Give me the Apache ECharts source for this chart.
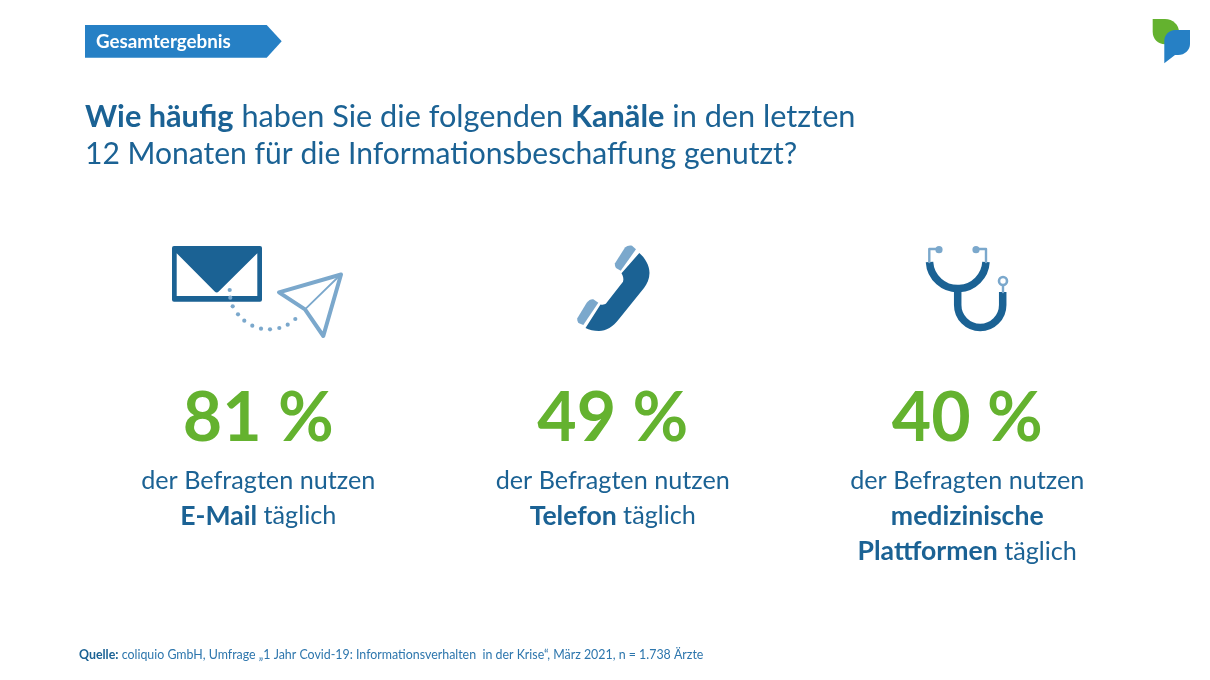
<!DOCTYPE html>
<html><head><meta charset="utf-8">
<style>html,body{margin:0;padding:0;background:#fff}#c{width:1210px;height:680px}</style>
<script src="https://cdn.jsdelivr.net/npm/echarts@6/dist/echarts.min.js"></script>
</head><body><div id="c"></div>
<script>
const channels = ['E-Mail', 'Telefon', 'medizinische Plattformen'];
const shares = [81, 49, 40];
const captionLead = 'der Befragten nutzen';
const captionTail = ' täglich';
const badgeText = 'Gesamtergebnis';
const sourceBold = 'Quelle:';
const sourceText = ' coliquio GmbH, Umfrage „1 Jahr Covid-19: Informationsverhalten  in der Krise“, März 2021, n = 1.738 Ärzte';

const DARK = '#1b6294', LIGHT = '#7ba8cc', GREEN = '#64b22f', BLUE = '#2680c5';
const FONT = 'Lato';

function caption(name) {
  const words = name.split(' ');
  const lines = ['{r|' + captionLead + '}'];
  if (words.length > 1) {
    lines.push('{b|' + words[0] + '}');
    lines.push('{b|' + words[1] + '}{r|' + captionTail + '}');
  } else {
    lines.push('{b|' + name + '}{r|' + captionTail + '}');
  }
  return lines.join('\n');
}

const iconPaths = [
  // logo
  {d:'M1152.7,19 H1165 C1173,19 1179,25 1179,32 C1179,39 1173,44.3 1165,44.3 C1158,44.3 1152.7,39 1152.7,32 Z', fill:GREEN},
  {d:'M1190,30 H1175 C1169,30 1164.3,35 1164.3,41 V63.3 L1175,55 H1178 C1185,55 1190,50 1190,44 Z', fill:BLUE},
  // phone
  {d:'M639.3,253 C645,258 649.5,265 649.5,273 C649.5,279 647,284 644,288 L619,319 C613,327 606,331 599,331 C594,331 589,330 585.5,328 L600.5,304.5 C603,305 605,304.5 606,303.5 L623,281.7 C624,279 623,276 621.5,273.3 Z', fill:DARK},
  {d:'M615,263.3 L625,247.5 C627,245.5 630,245 632,245.7 L636,249.3 L620.7,270.7 L616,268 C615,266.5 614.7,265 615,263.3 Z', fill:LIGHT},
  {d:'M577.3,318.3 L586.7,302.7 C589,300 591,299 593.3,299.3 L598.3,302.7 L583.3,325 L579,323.3 C577.5,322 577,320 577.3,318.3 Z', fill:LIGHT},
  // envelope
  {d:'M174,246 H260 Q262,246 262,248 V299.7 Q262,301.7 260,301.7 H174 Q172,301.7 172,299.7 V248 Q172,246 174,246 Z', fill:DARK},
  {d:'M176.7,253.3 L214.7,291.5 Q216.7,293.5 218.7,291.5 L257.3,253.3 V296 H176.7 Z', fill:'#ffffff'},
  // paper plane
  {d:'M279,292.3 L341,274.5 L323.3,336 L305,309.3 Z', stroke:LIGHT, lw:4},
  {d:'M305,309.3 L341.3,274', stroke:LIGHT, lw:1.8},
  // stethoscope
  {d:'M929.5,262 A28.3,28.3 0 0 0 986,262', stroke:DARK, lw:7.5, cap:'butt'},
  {d:'M957.7,290 V305 A22.5,22.5 0 0 0 1002.7,305 V292', stroke:DARK, lw:7.5, cap:'butt'},
  {d:'M929.3,262 V249 H938 M986,262 V249 H976', stroke:LIGHT, lw:2.4},
  {d:'M1003,285 V292', stroke:LIGHT, lw:2.4},
  // badge
  {d:'M85,25 H266.7 L281.7,41.3 L266.7,57.7 H85 Z', fill:BLUE}
];
const iconDots = [
  [229.7,290],[230.3,297.7],[232.7,306.3],[238,314.3],[244.3,320.7],[252.3,325.7],
  [261,328.7],[270,329.3],[279.3,328],[287.7,324.7],[295.3,319]
];

const rich = {
  r: {fontFamily: FONT, fontSize: 25.2, color: DARK, lineHeight: 35.5},
  b: {fontFamily: FONT, fontSize: 26.6, fontWeight: 'bold', color: DARK, lineHeight: 35.5}
};

const chart = echarts.init(document.getElementById('c'), null, {renderer: 'canvas'});
chart.setOption({
  animation: false,
  backgroundColor: '#ffffff',
  grid: {left: 81, width: 1063.5, top: 300, height: 234},
  xAxis: {type: 'category', data: channels, show: false},
  yAxis: {type: 'value', min: 0, max: 1, show: false},
  series: [
    {
      type: 'custom', coordinateSystem: 'none', silent: true, z: 1, data: [0],
      renderItem: function () {
        const kids = iconPaths.map(function (p) {
          return {
            type: 'path',
            shape: {pathData: p.d},
            style: p.fill
              ? {fill: p.fill, stroke: null}
              : {fill: null, stroke: p.stroke, lineWidth: p.lw, lineJoin: 'round', lineCap: p.cap || 'round'}
          };
        });
        iconDots.forEach(function (c) {
          kids.push({type: 'circle', shape: {cx: c[0], cy: c[1], r: 2.1}, style: {fill: LIGHT}});
        });
        [[939, 249.7], [976, 249.7]].forEach(function (c) {
          kids.push({type: 'circle', shape: {cx: c[0], cy: c[1], r: 3.6}, style: {fill: LIGHT}});
        });
        kids.push({type: 'circle', shape: {cx: 1003, cy: 281, r: 4}, style: {fill: '#fff', stroke: LIGHT, lineWidth: 2.6}});
        return {type: 'group', children: kids};
      }
    },
    {
      type: 'scatter', symbolSize: 0, silent: true, itemStyle: {opacity: 1},
      data: channels.map(function (c, i) { return {value: [c, 0.5], share: shares[i]}; }),
      label: {
        show: true, position: 'inside', align: 'center', verticalAlign: 'middle', offset: [0, 2],
        formatter: function (p) { return shares[p.dataIndex] + ' %'; },
        fontFamily: FONT, fontSize: 68, fontWeight: 'bold', color: GREEN
      }
    },
    {
      type: 'scatter', symbolSize: 0, silent: true, itemStyle: {opacity: 1},
      data: channels.map(function (c) { return [c, 0.5]; }),
      label: {
        show: true, position: 'inside', align: 'center', verticalAlign: 'top', offset: [0, 46],
        formatter: function (p) { return caption(channels[p.dataIndex]); },
        rich: rich
      }
    }
  ],
  graphic: [
    {type: 'text', x: 96, y: 42, z: 10, style: {
      text: badgeText, fontFamily: FONT, fontSize: 18.8, fontWeight: 'bold', fill: '#fff', verticalAlign: 'middle'}},
    {type: 'text', x: 85, y: 99, z: 10, style: {
      text: '{b|Wie häufig}{r| haben Sie die folgenden }{b|Kanäle}{r| in den letzten}\n{s|12 Monaten für die Informationsbeschaffung genutzt?}',
      rich: {
        r: {fontFamily: FONT, fontSize: 30.7, fill: DARK, color: DARK, lineHeight: 37},
        s: {fontFamily: FONT, fontSize: 30.05, fill: DARK, color: DARK, lineHeight: 37},
        b: {fontFamily: FONT, fontSize: 30.7, fontWeight: 'bold', fill: DARK, color: DARK, lineHeight: 37}
      }
    }},
    {type: 'text', x: 79, y: 655, z: 10, style: {
      text: '{b|' + sourceBold + '}{r|' + sourceText + '}', verticalAlign: 'middle',
      rich: {
        r: {fontFamily: FONT, fontSize: 12.4, fill: '#2d76ad', color: '#2d76ad'},
        b: {fontFamily: FONT, fontSize: 12.4, fontWeight: 'bold', fill: DARK, color: DARK}
      }
    }}
  ]
});
</script></body></html>
